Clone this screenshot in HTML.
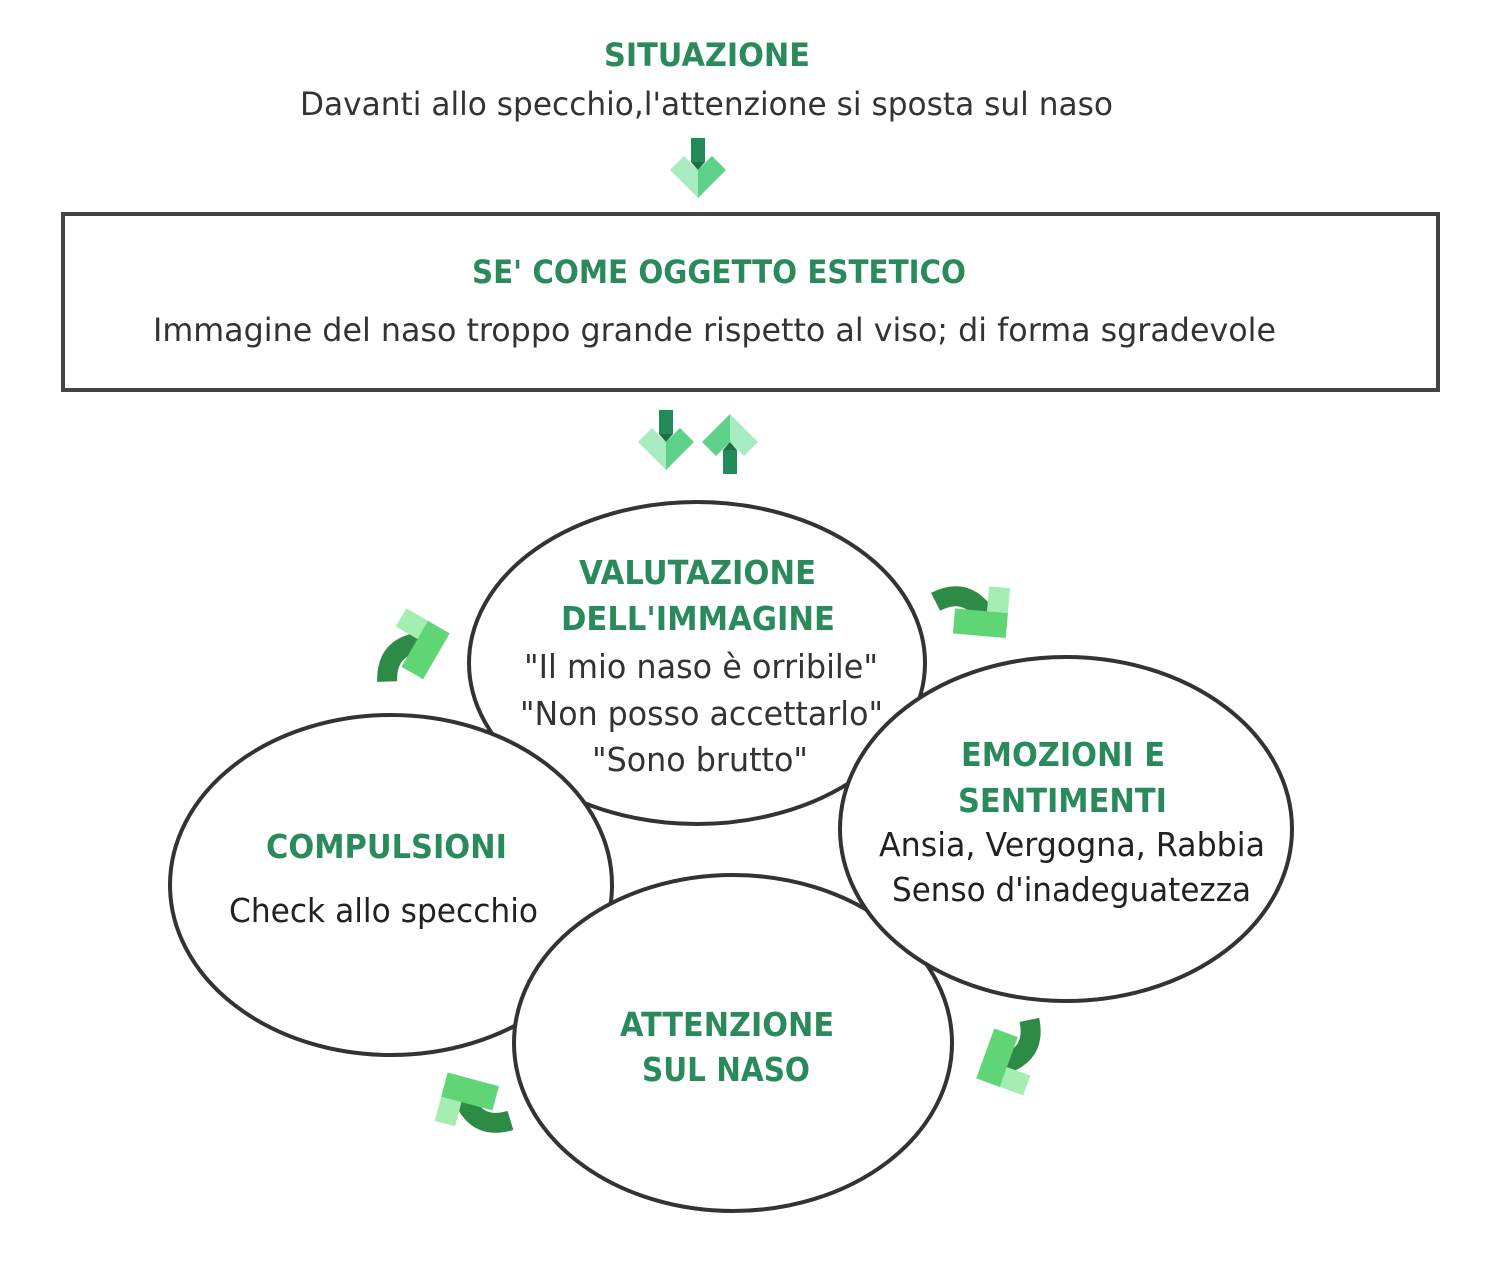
<!DOCTYPE html>
<html><head><meta charset="utf-8"><style>
body{margin:0;background:#fff;}
svg text{font-family:"DejaVu Sans","Liberation Sans",sans-serif;}
</style></head><body>
<svg width="1512" height="1260" viewBox="0 0 1512 1260" xmlns="http://www.w3.org/2000/svg">
<defs>
<g id="dn">
<polygon points="-28,0 -14,-14 0,0 0,28" fill="#a6ecc0"/>
<polygon points="0,0 14,-14 28,0 0,28" fill="#5ed18a"/>
<rect x="-7" y="-32" width="14" height="24" fill="#258a5a"/>
<polygon points="-7,-8 7,-8 0,0" fill="#1d6e45"/>
</g>
<g id="cv">
<path d="M10,22 Q42,2 64,36" stroke="#2e8b45" stroke-width="20" fill="none"/>
<rect x="62" y="2" width="21" height="48" fill="#a3eeb0"/>
<rect x="30" y="27" width="53" height="25" fill="#5fd575"/>
</g>
</defs>
<text x="604" y="66" textLength="206" lengthAdjust="spacingAndGlyphs" font-size="32" font-weight="bold" fill="#2a8a5c">SITUAZIONE</text>
<text x="300" y="115" textLength="813" lengthAdjust="spacingAndGlyphs" font-size="32" fill="#333">Davanti allo specchio,l'attenzione si sposta sul naso</text>
<use href="#dn" x="698" y="170"/>
<rect x="63" y="214" width="1375" height="176" fill="none" stroke="#444" stroke-width="4"/>
<text x="472" y="283" textLength="494" lengthAdjust="spacingAndGlyphs" font-size="32" font-weight="bold" fill="#2a8a5c">SE' COME OGGETTO ESTETICO</text>
<text x="153" y="341" textLength="1123" lengthAdjust="spacingAndGlyphs" font-size="32" fill="#333">Immagine del naso troppo grande rispetto al viso; di forma sgradevole</text>
<use href="#dn" x="666" y="442"/>
<use href="#dn" x="730" y="442" transform="rotate(180 730 442)"/>
<ellipse cx="697" cy="663" rx="228" ry="161" fill="#fff" stroke="#333" stroke-width="4"/>
<ellipse cx="391" cy="885" rx="221" ry="170" fill="#fff" stroke="#333" stroke-width="4"/>
<ellipse cx="733" cy="1043" rx="219" ry="168" fill="#fff" stroke="#333" stroke-width="4"/>
<ellipse cx="1066" cy="829" rx="226" ry="172" fill="#fff" stroke="#333" stroke-width="4"/>
<g font-size="33">
<text x="579" y="584" textLength="237" lengthAdjust="spacingAndGlyphs" font-weight="bold" fill="#2a8a5c">VALUTAZIONE</text>
<text x="561" y="630" textLength="274" lengthAdjust="spacingAndGlyphs" font-weight="bold" fill="#2a8a5c">DELL'IMMAGINE</text>
<text x="524" y="678" textLength="354" lengthAdjust="spacingAndGlyphs" fill="#333">"Il mio naso è orribile"</text>
<text x="520" y="725" textLength="363" lengthAdjust="spacingAndGlyphs" fill="#333">"Non posso accettarlo"</text>
<text x="592" y="771" textLength="216" lengthAdjust="spacingAndGlyphs" fill="#333">"Sono brutto"</text>
<text x="961" y="766" textLength="204" lengthAdjust="spacingAndGlyphs" font-weight="bold" fill="#2a8a5c">EMOZIONI E</text>
<text x="958" y="812" textLength="209" lengthAdjust="spacingAndGlyphs" font-weight="bold" fill="#2a8a5c">SENTIMENTI</text>
<text x="879" y="856" textLength="386" lengthAdjust="spacingAndGlyphs" fill="#222">Ansia, Vergogna, Rabbia</text>
<text x="892" y="901" textLength="359" lengthAdjust="spacingAndGlyphs" fill="#222">Senso d'inadeguatezza</text>
<text x="266" y="858" textLength="241" lengthAdjust="spacingAndGlyphs" font-weight="bold" fill="#2a8a5c">COMPULSIONI</text>
<text x="229" y="922" textLength="309" lengthAdjust="spacingAndGlyphs" fill="#222">Check allo specchio</text>
<text x="620" y="1036" textLength="214" lengthAdjust="spacingAndGlyphs" font-weight="bold" fill="#2a8a5c">ATTENZIONE</text>
<text x="642" y="1081" textLength="168" lengthAdjust="spacingAndGlyphs" font-weight="bold" fill="#2a8a5c">SUL NASO</text>
</g>
<g transform="translate(972,610) rotate(5) translate(-47,-27)"><use href="#cv"/></g>
<g transform="translate(1012,1053) rotate(110) translate(-47,-27)"><use href="#cv"/></g>
<g transform="translate(476,1106) rotate(195) translate(-47,-27)"><use href="#cv"/></g>
<g transform="translate(410,652) rotate(-60) translate(-47,-27)"><use href="#cv"/></g>
</svg>
</body></html>
